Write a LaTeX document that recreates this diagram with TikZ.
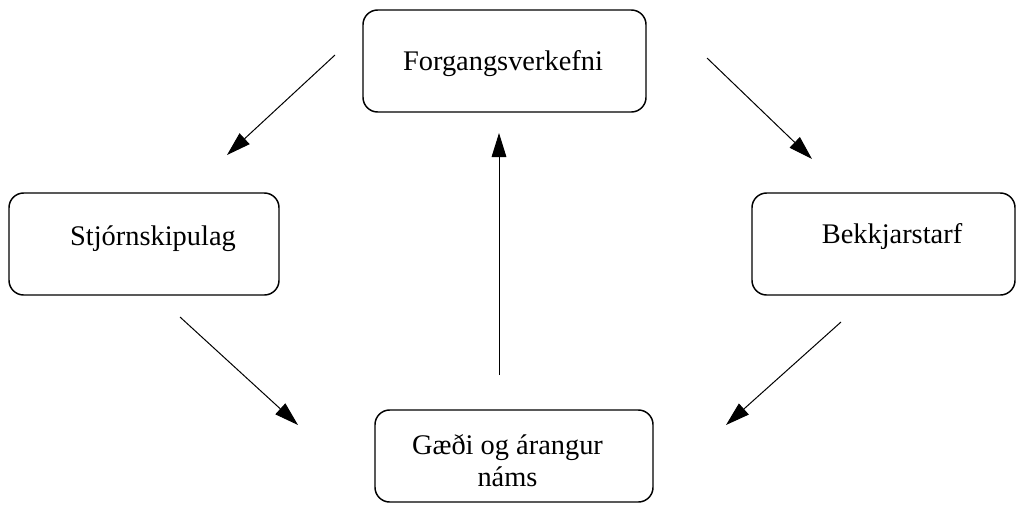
\documentclass[tikz,border=0pt]{standalone}
\usepackage{fontspec}
\setmainfont{Liberation Serif}
\usetikzlibrary{arrows.meta}

\begin{document}
\begin{tikzpicture}[x=0.75pt,y=0.75pt,yscale=-1,xscale=1,
    box/.style={draw, line width=1.1pt, rounded corners=11pt, inner sep=0pt},
    boxtext/.style={anchor=base, inner sep=0pt, font=\fontsize{21.3}{23.3}\selectfont},
    flow/.style={line width=0.75pt, -{Triangle[length=18pt,width=11pt]}}]
        \useasboundingbox (0,0) rectangle (1021,504);
        % boxes
        \node [box, minimum width=212.25pt, minimum height=76.5pt] (forg) at (504.5,61) {};
        \node [box, minimum width=202.5pt, minimum height=76.5pt] (stjorn) at (144,244) {};
        \node [box, minimum width=197.25pt, minimum height=76.5pt] (bekk) at (883.5,244) {};
        \node [box, minimum width=208.5pt, minimum height=69pt] (gaedi) at (514,456) {};
        % texts
        \node [boxtext] (forgtxt) at (503,70) {Forgangsverkefni};
        \node [boxtext] (stjorntxt) at (153,245) {Stjórnskipulag};
        \node [boxtext] (bekktxt) at (892,243) {Bekkjarstarf};
        \node [boxtext, align=center] (gaeditxt) at (507.5,486) {Gæði og árangur\\náms};
        % arrow ends
        \coordinate (a1s) at (335,55);   \coordinate (a1e) at (227,155);
        \coordinate (a2s) at (707,58);   \coordinate (a2e) at (812,159);
        \coordinate (a3s) at (180,317);  \coordinate (a3e) at (298,425);
        \coordinate (a4s) at (841,322);  \coordinate (a4e) at (726,425);
        \coordinate (a5s) at (499,375);  \coordinate (a5e) at (499,133);
        \draw [flow] (a1s) -- (a1e);
        \draw [flow] (a2s) -- (a2e);
        \draw [flow] (a3s) -- (a3e);
        \draw [flow] (a4s) -- (a4e);
        \draw [flow] (a5s) -- (a5e);
\end{tikzpicture}
\end{document}
